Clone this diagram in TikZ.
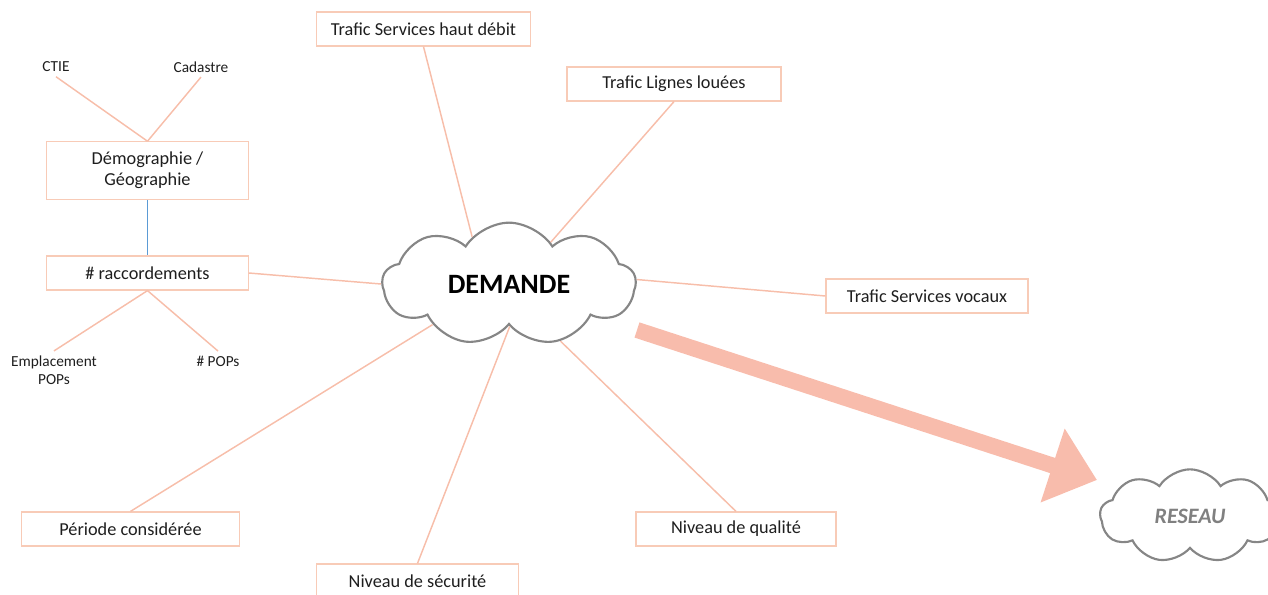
\documentclass[tikz,border=0pt]{standalone}
\usepackage{fontspec}
\setmainfont{Carlito}
\usepackage{tikz}
\usetikzlibrary{positioning,shapes,arrows.meta}
\definecolor{saumon}{RGB}{248,203,183}
\definecolor{trait}{RGB}{247,190,170}
\definecolor{fleche}{RGB}{248,188,172}
\definecolor{bleu}{RGB}{91,155,213}
\definecolor{texte}{RGB}{30,30,30}
\tikzset{
        boite/.style={draw=saumon, line width=0.9pt, minimum height=25.5pt, text=texte, font=\fontsize{13.7}{16}\selectfont, align=center}, % cadres
        petit/.style={text=texte, font=\fontsize{11.5}{13.5}\selectfont, align=center}, % petits libelles
        lien/.style={draw=trait, line width=1.1pt},
        nuage/.style={cloud, cloud puffs=9, cloud puff arc=115, cloud ignores aspect, draw=gray!95, line width=1.6pt, fill=white},
}

\begin{document}
\begin{tikzpicture}[x=0.75pt,y=-0.75pt]
\useasboundingbox (0,0) rectangle (1268,595);

% nuages
\node[nuage, minimum width=190pt, minimum height=92pt] (demande) at (509,284) {\fontsize{21}{24}\selectfont\bfseries DEMANDE};
\node[nuage, minimum width=135pt, minimum height=70pt] (reseau) at (1190,516) {\textcolor{gray}{\fontsize{16.5}{19}\selectfont\bfseries\itshape RESEAU}};

% cadres autour de la demande
\node[boite, minimum width=160pt] (haut) at (423.5,29) {Trafic Services haut débit};
\node[boite, minimum width=160.5pt] (lignes) at (674,84) {Trafic Lignes louées};
\node[boite, minimum width=151.5pt] (vocaux) at (927,296) {Trafic Services vocaux};
\node[boite, minimum width=150pt] (qualite) at (736,529) {Niveau de qualité};
\node[boite, minimum width=151pt] (securite) at (417.5,581) {Niveau de sécurité};
\node[boite, minimum width=164pt] (periode) at (130.5,529) {Période considérée};
\node[boite, minimum width=151pt] (raccord) at (147.5,273) {\# raccordements};
\node[boite, minimum width=151pt, minimum height=43pt] (demo) at (147.5,170.5) {Démographie /\\Géographie};

% petits libelles
\node[petit] (ctie) at (56,67) {CTIE};
\node[petit] (cadastre) at (201,67) {Cadastre};
\node[petit] (emplacement) at (54,370) {Emplacement\\POPs};
\node[petit] (pops) at (218,361) {\# POPs};

% liens
\draw[lien] (haut.south) -- (demande.128);
\draw[lien] (lignes.south) -- (demande.45);
\draw[lien] (vocaux.west) -- (demande.2);
\draw[lien] (qualite.north) -- (demande.-48);
\draw[lien] (securite.north) -- (demande.-89);
\draw[lien] (periode.north) -- (demande.208);
\draw[lien] (raccord.east) -- (demande.180);
\draw[lien] (ctie.south) -- (demo.north);
\draw[lien] (cadastre.south) -- (demo.north);
\draw[lien] (raccord.south) -- (emplacement.north);
\draw[lien] (raccord.south) -- (pops.north);
\draw[draw=bleu, line width=1.1pt] (demo) -- (raccord);

% grosse fleche
\coordinate (depart) at (637,330);
\coordinate (pointe) at (1097,480);
\draw[fleche, line width=12pt, -{Triangle[length=35pt,width=56pt]}] (depart) -- (pointe);
\end{tikzpicture}
\end{document}
